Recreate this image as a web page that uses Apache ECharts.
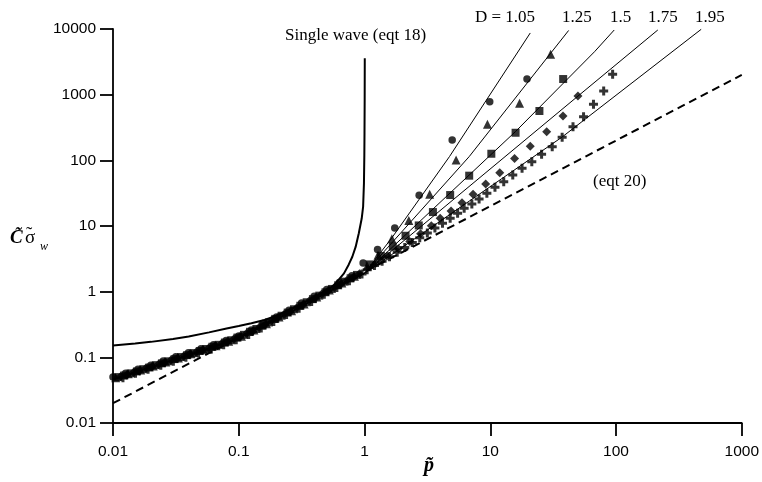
<!DOCTYPE html>
<html>
<head>
<meta charset="utf-8">
<script src="https://cdn.jsdelivr.net/npm/echarts@6/dist/echarts.min.js"></script>
<style>
  html, body { margin: 0; padding: 0; background: #fff; }
  #chart { width: 762px; height: 482px; }
</style>
</head>
<body>
<div id="chart"></div>
<script>
// Tick labels for the two logarithmic axes (one per decade)
const xTickLabels = ['0.01', '0.1', '1', '10', '100', '1000'];
const yTickLabels = ['0.01', '0.1', '1', '10', '100', '1000', '10000'];
const dLabels = ['D = 1.05', '1.25', '1.5', '1.75', '1.95'];

// Simulated points [p, C*sigma_w] for each fractal dimension D
const pointsD105 = [
  [0.01, 0.05], [0.0126, 0.057], [0.0158, 0.066], [0.02, 0.076], [0.0251, 0.088],
  [0.0316, 0.102], [0.0398, 0.117], [0.0501, 0.135], [0.0631, 0.155], [0.0794, 0.18],
  [0.1, 0.212], [0.126, 0.26], [0.158, 0.33], [0.2, 0.41], [0.251, 0.52],
  [0.316, 0.67], [0.398, 0.85], [0.501, 1.08], [0.631, 1.38], [0.794, 1.75],
  [0.975, 2.73], [1.27, 4.4], [1.74, 9.3], [2.72, 29.5], [4.98, 204], [9.9, 777], [19.6, 1730]
];
const pointsD125 = [
  [0.0105, 0.049], [0.0132, 0.056], [0.0166, 0.064], [0.0209, 0.074], [0.0263, 0.085],
  [0.0331, 0.098], [0.0417, 0.113], [0.0525, 0.13], [0.066, 0.15], [0.0832, 0.176],
  [0.105, 0.21], [0.132, 0.26], [0.166, 0.325], [0.209, 0.41], [0.263, 0.51],
  [0.331, 0.65], [0.417, 0.83], [0.525, 1.06], [0.66, 1.35], [0.832, 1.72],
  [1.05, 2.45], [1.28, 3.6], [1.65, 6.4], [2.25, 12.1], [3.3, 30.4], [5.35, 101],
  [9.5, 354], [17.1, 738], [30.2, 4120]
];
const pointsD150 = [
  [0.011, 0.05], [0.0123, 0.053], [0.0138, 0.057], [0.0155, 0.061], [0.0174, 0.066],
  [0.0195, 0.07], [0.0219, 0.076], [0.0245, 0.081], [0.0275, 0.087], [0.0309, 0.094],
  [0.0347, 0.101], [0.0389, 0.108], [0.0437, 0.116], [0.049, 0.125], [0.055, 0.134],
  [0.0617, 0.145], [0.0692, 0.155], [0.0776, 0.168], [0.0871, 0.182], [0.0977, 0.2],
  [0.11, 0.22], [0.123, 0.245], [0.138, 0.27], [0.155, 0.305], [0.174, 0.34],
  [0.195, 0.385], [0.219, 0.43], [0.245, 0.48], [0.275, 0.54], [0.309, 0.61],
  [0.347, 0.69], [0.389, 0.77], [0.437, 0.87], [0.49, 0.98], [0.55, 1.1],
  [0.617, 1.25], [0.692, 1.42], [0.776, 1.6], [0.871, 1.8],
  [1.1, 2.6], [1.35, 3.5], [1.68, 4.84], [2.12, 7.1], [2.7, 10.2], [3.5, 16.3],
  [4.8, 29.6], [6.8, 58.4], [10.2, 126], [15.9, 263], [24.6, 564], [38, 1730]
];
const pointsD175 = [
  [0.0115, 0.051], [0.0129, 0.054], [0.0145, 0.059], [0.0162, 0.062], [0.0182, 0.068],
  [0.0204, 0.072], [0.0229, 0.078], [0.0257, 0.083], [0.0288, 0.09], [0.0324, 0.096],
  [0.0363, 0.104], [0.0407, 0.111], [0.0457, 0.12], [0.0513, 0.128], [0.0575, 0.138],
  [0.0646, 0.148], [0.0724, 0.16], [0.0813, 0.173], [0.0912, 0.19], [0.102, 0.205],
  [0.115, 0.23], [0.129, 0.25], [0.145, 0.285], [0.162, 0.315], [0.182, 0.36],
  [0.204, 0.4], [0.229, 0.45], [0.257, 0.5], [0.288, 0.565], [0.324, 0.63],
  [0.363, 0.72], [0.407, 0.8], [0.457, 0.92], [0.513, 1.02], [0.575, 1.16],
  [0.646, 1.3], [0.724, 1.48], [0.813, 1.65], [0.912, 1.88],
  [1.23, 2.7], [1.51, 3.5], [1.86, 4.5], [2.29, 5.8], [2.79, 7.6], [3.4, 10.1],
  [4.0, 13.1], [4.88, 16.9], [5.96, 22.6], [7.3, 30.4], [9.2, 43.7], [11.9, 64.9],
  [15.6, 107], [20.8, 164], [28.1, 273], [37.9, 473], [49.8, 953]
];
const pointsD195 = [
  [0.012, 0.049], [0.0151, 0.057], [0.019, 0.066], [0.024, 0.076], [0.0302, 0.087],
  [0.038, 0.1], [0.0479, 0.116], [0.0603, 0.133], [0.0759, 0.156], [0.0955, 0.185],
  [0.12, 0.223], [0.151, 0.28], [0.19, 0.35], [0.24, 0.45], [0.302, 0.56],
  [0.38, 0.71], [0.479, 0.91], [0.603, 1.16], [0.759, 1.47], [0.955, 1.85],
  [1.05, 2.15], [1.2, 2.5], [1.38, 2.9], [1.58, 3.4], [1.82, 4.0], [2.09, 4.7],
  [2.4, 5.6], [2.75, 6.6], [3.16, 7.8], [3.63, 9.3], [4.17, 11.0], [4.8, 13.1],
  [5.5, 15.6], [6.2, 18.6], [7.14, 21.6], [8.15, 25.8], [9.4, 31.5], [10.9, 38.8],
  [12.8, 47.3], [15.1, 59.8], [17.9, 75.7], [21.4, 95.3], [25.6, 124], [31.1, 161],
  [37.3, 224], [45.5, 325], [55.2, 462], [66.2, 713], [79.8, 1137], [94, 2040]
];

// Model curves for each D (shared low-p branch, then diverging)
const curveLow = [
  [0.01, 0.046], [0.02, 0.071], [0.05, 0.125], [0.1, 0.195], [0.2, 0.38],
  [0.3, 0.57], [0.5, 0.96], [0.7, 1.35], [1, 1.9]
];
const curveD105 = [[1.65, 6.6], [4.74, 114], [20.8, 8700]];
const curveD125 = [[6.8, 114], [30, 4200], [42, 9500]];
const curveD150 = [[15.9, 275], [67.5, 4510], [96.8, 9660]];
const curveD175 = [[49.8, 950], [215, 9660]];
const curveD195 = [[37, 224], [476, 9900]];

// Single wave solution (eqt 18)
const singleWave = [
  [0.01, 0.152], [0.015, 0.163], [0.02, 0.172], [0.03, 0.19], [0.04, 0.207],
  [0.058, 0.24], [0.08, 0.275], [0.1, 0.3], [0.126, 0.33], [0.16, 0.37],
  [0.2, 0.43], [0.3, 0.62], [0.4, 0.82], [0.5, 1.05], [0.574, 1.26],
  [0.687, 1.9], [0.75, 2.6], [0.8, 3.4], [0.85, 4.8], [0.9, 7.7],
  [0.95, 13], [0.975, 19.7], [0.99, 45], [0.997, 120], [1.0, 261],
  [1.003, 800], [1.005, 3580]
];

// Asymptote (eqt 20)
const eqt20 = [[0.01, 0.02], [1000, 2000]];

const plusSymbol = 'path://M3,0H6V3H9V6H6V9H3V6H0V3H3Z';

function decadeLabel(labels, base) {
  return function (v) {
    const i = Math.round(Math.log10(v)) + base;
    return labels[i] !== undefined ? labels[i] : '';
  };
}

function modelLine(upper) {
  return {
    type: 'line', data: curveLow.concat(upper), symbol: 'none',
    lineStyle: { color: '#000', width: 1 }, z: 2, silent: true
  };
}
function markers(data, symbol, size) {
  return {
    type: 'scatter', data: data, symbol: symbol, symbolSize: size,
    itemStyle: { color: '#000' }, z: 4, silent: true
  };
}

const chart = echarts.init(document.getElementById('chart'), null, { renderer: 'canvas' });

const axisFont = { fontFamily: 'Liberation Sans, Arial, sans-serif', fontSize: 15.5, color: '#000' };
const serif = 'Liberation Serif, Times New Roman, serif';

chart.setOption({
  animation: false,
  backgroundColor: '#fff',
  grid: { left: 113, right: 13, top: 29, bottom: 59, containLabel: false },
  xAxis: {
    type: 'log', logBase: 10, min: 0.01, max: 1000, splitNumber: 5,
    axisLine: { onZero: false, lineStyle: { color: '#000', width: 1.8 } },
    axisTick: { length: 13, lineStyle: { color: '#000', width: 1.8 } },
    splitLine: { show: false },
    minorTick: { show: false },
    axisLabel: Object.assign({ margin: 21, formatter: decadeLabel(xTickLabels, 2) }, axisFont)
  },
  yAxis: {
    type: 'log', logBase: 10, min: 0.01, max: 10000, splitNumber: 6,
    axisLine: { onZero: false, lineStyle: { color: '#000', width: 1.8 } },
    axisTick: { length: 13, lineStyle: { color: '#000', width: 1.8 } },
    splitLine: { show: false },
    minorTick: { show: false },
    axisLabel: Object.assign({ margin: 17, formatter: decadeLabel(yTickLabels, 2) }, axisFont)
  },
  series: [
    {
      type: 'line', data: eqt20, symbol: 'none', z: 1, silent: true,
      lineStyle: { color: '#000', width: 2, type: [8, 5] }
    },
    modelLine(curveD105),
    modelLine(curveD125),
    modelLine(curveD150),
    modelLine(curveD175),
    modelLine(curveD195),
    {
      type: 'line', data: singleWave, symbol: 'none', smooth: false, z: 3, silent: true,
      lineStyle: { color: '#000', width: 2 }
    },
    markers(pointsD105, 'circle', 7.5),
    markers(pointsD125, 'triangle', 9),
    markers(pointsD150, 'rect', 8),
    markers(pointsD175, 'diamond', 9),
    markers(pointsD195, plusSymbol, 9)
  ],
  graphic: [
    { type: 'text', left: 285, top: 27, style: { text: 'Single wave (eqt 18)', font: '17px ' + serif, fill: '#000' } },
    { type: 'text', left: 475, top: 9, style: { text: dLabels[0], font: '17px ' + serif, fill: '#000' } },
    { type: 'text', left: 562, top: 9, style: { text: dLabels[1], font: '17px ' + serif, fill: '#000' } },
    { type: 'text', left: 610, top: 9, style: { text: dLabels[2], font: '17px ' + serif, fill: '#000' } },
    { type: 'text', left: 648, top: 9, style: { text: dLabels[3], font: '17px ' + serif, fill: '#000' } },
    { type: 'text', left: 695, top: 9, style: { text: dLabels[4], font: '17px ' + serif, fill: '#000' } },
    { type: 'text', left: 593, top: 173, style: { text: '(eqt 20)', font: '17px ' + serif, fill: '#000' } },
    { type: 'text', left: 424, top: 456, style: { text: 'p\u0303', font: 'bold italic 20px ' + serif, fill: '#000' } },
    { type: 'text', left: 10, top: 229, style: { text: 'C\u0303', font: 'bold italic 19px ' + serif, fill: '#000' } },
    { type: 'text', left: 25, top: 229, style: { text: '\u03C3', font: '19px ' + serif, fill: '#000' } },
    { type: 'text', left: 26, top: 226, style: { text: '\u02DC', font: '19px ' + serif, fill: '#000' } },
    { type: 'text', left: 40, top: 241, style: { text: 'w', font: 'italic 12px ' + serif, fill: '#000' } }
  ]
});
</script>
</body>
</html>
